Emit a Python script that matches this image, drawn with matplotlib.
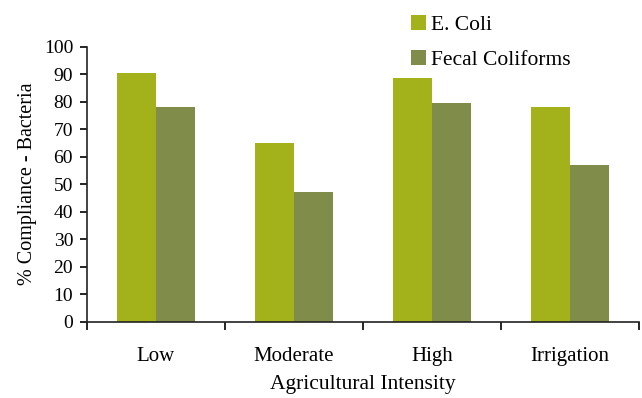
import numpy as np
import matplotlib.pyplot as plt

plt.rcParams['font.family'] = ['Liberation Serif', 'DejaVu Serif']

categories = ["Low", "Moderate", "High", "Irrigation"]
e_coli = [90.5, 65, 88.5, 78]
fecal_coliforms = [78, 47, 79.5, 57]
yticks = list(range(0, 101, 10))

fig = plt.figure(figsize=(6.42, 3.98), dpi=100)
ax = fig.add_axes([0.1355, 0.1917, 0.8598, 0.691])

x = np.arange(len(categories))
w = 0.282
ax.bar(x - w / 2, e_coli, width=w, color="#a3b21a", label="E. Coli")
ax.bar(x + w / 2, fecal_coliforms, width=w, color="#7f8c4a", label="Fecal Coliforms")

ax.set_xlim(-0.5, len(categories) - 0.5)
ax.set_ylim(0, 100)
ax.set_yticks(yticks)
ax.set_yticklabels([str(v) for v in yticks], fontsize=14)

# category labels sit between the boundary ticks
ax.set_xticks(np.arange(-0.5, len(categories), 1.0))
ax.set_xticklabels([])
ax.set_xticks(x, minor=True)
ax.set_xticklabels(categories, minor=True, fontsize=15)
ax.tick_params(axis="x", which="minor", length=0, pad=18)
ax.tick_params(axis="x", which="major", length=6, width=1.2, direction="out")
ax.tick_params(axis="y", length=5, width=1.2, direction="out", pad=5)

for side in ("top", "right"):
    ax.spines[side].set_visible(False)
for side in ("left", "bottom"):
    ax.spines[side].set_linewidth(1.2)
    ax.spines[side].set_color("#222222")

ax.set_ylabel("% Compliance - Bacteria", fontsize=14.5, labelpad=5)
ax.set_xlabel("Agricultural Intensity", fontsize=15.5, labelpad=7)

fig.legend(loc="upper left", bbox_to_anchor=(0.61, 1.012), frameon=False,
           fontsize=15.5, handlelength=0.7, handleheight=0.7,
           handletextpad=0.25, labelspacing=0.7)

fig.savefig("out.png", dpi=100)
